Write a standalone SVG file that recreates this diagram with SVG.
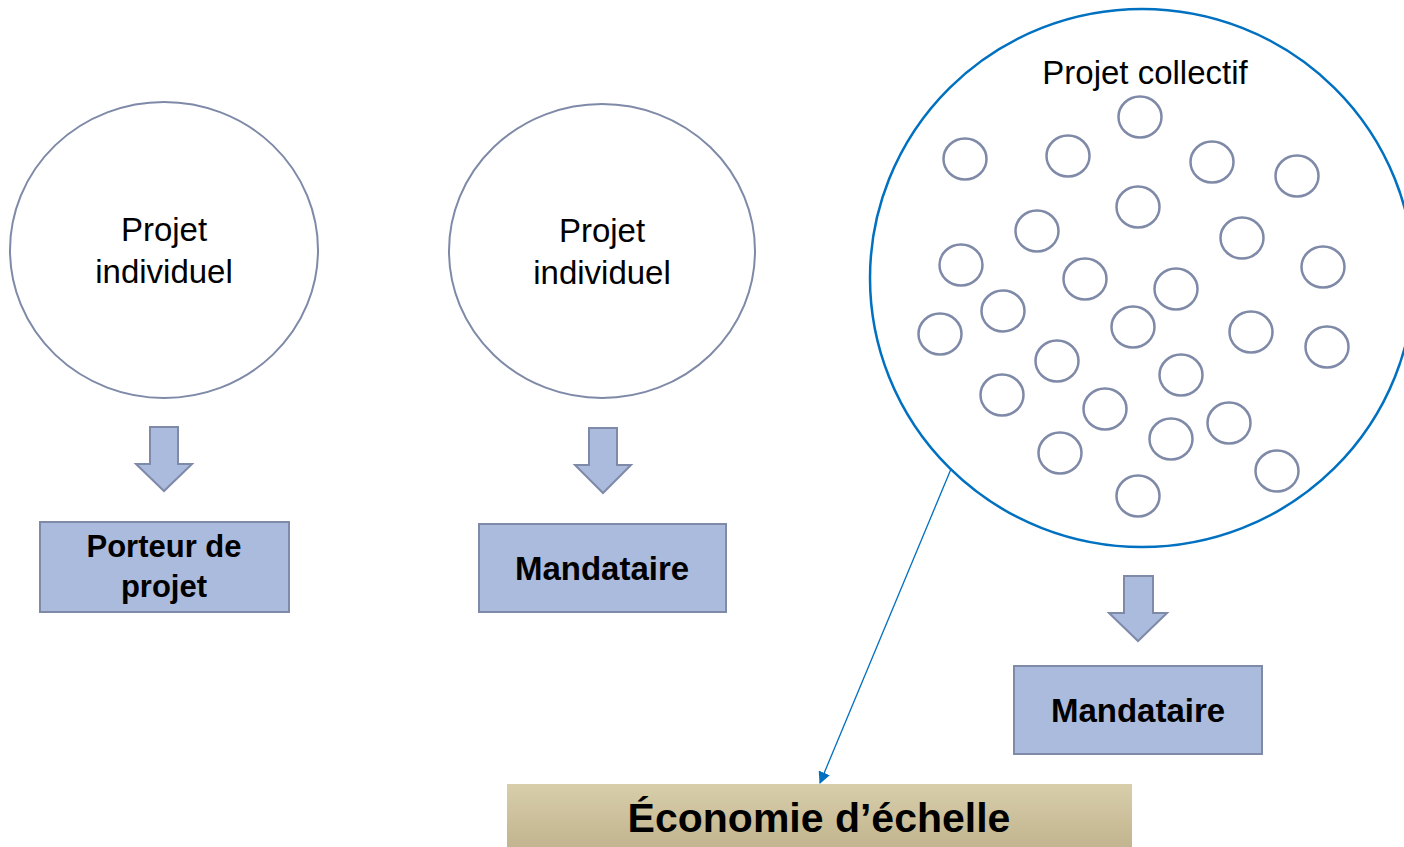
<svg xmlns="http://www.w3.org/2000/svg" width="1404" height="847" viewBox="0 0 1404 847">
<style>
.big{fill:#fff;stroke:#7F8AA8;stroke-width:2}
.sm{fill:#fff;stroke:#7F8AA8;stroke-width:2.5}
.arr{fill:#ABBBDD;stroke:#7F8AA8;stroke-width:2}
.box{fill:#ABBBDD;stroke:#7F8AA8;stroke-width:2}
.t{font-family:"Liberation Sans",Arial,sans-serif;font-size:33px;fill:#000;text-anchor:middle}
.b{font-family:"Liberation Sans",Arial,sans-serif;font-size:31px;font-weight:bold;fill:#000;text-anchor:middle}
.conn{stroke:#0070C0;stroke-width:1.3;fill:none}
</style>
<defs>
<linearGradient id="tan" x1="0" y1="0" x2="0" y2="1">
<stop offset="0" stop-color="#D8CEAA"/>
<stop offset="1" stop-color="#BFB28C"/>
</linearGradient>
<marker id="ah" markerWidth="12" markerHeight="12" refX="11" refY="6" orient="auto" markerUnits="userSpaceOnUse">
<path d="M0,0 L12,6 L0,12 Z" fill="#0070C0"/>
</marker>
</defs>

<g id="projet-individuel-1">
<ellipse class="big" cx="164" cy="250" rx="154" ry="148"/>
<text class="t" x="164" y="241">Projet</text>
<text class="t" x="164" y="283">individuel</text>
</g>
<g id="arrow-1"><path class="arr" d="M150,427 H178 V464 H192 L164,491 L136,464 H150 Z"/></g>
<g id="porteur">
<rect class="box" x="40" y="522" width="249" height="90"/>
<text class="b" x="164" y="557">Porteur de</text>
<text class="b" x="164" y="597">projet</text>
</g>

<g id="projet-individuel-2">
<ellipse class="big" cx="602" cy="251" rx="153" ry="147"/>
<text class="t" x="602" y="242">Projet</text>
<text class="t" x="602" y="284">individuel</text>
</g>
<g id="arrow-2"><path class="arr" d="M589,428 H617 V465 H631 L603,493 L575,465 H589 Z"/></g>
<g id="mandataire-1">
<rect class="box" x="479" y="524" width="247" height="88"/>
<text class="b" x="602" y="580" style="font-size:33px">Mandataire</text>
</g>

<g id="projet-collectif">
<ellipse cx="1142" cy="278" rx="272" ry="269" fill="#fff" stroke="#0070C0" stroke-width="2.5"/>
<text class="t" x="1145" y="84">Projet collectif</text>
<g>
<ellipse class="sm" cx="1140" cy="117" rx="21.5" ry="20.5"/>
<ellipse class="sm" cx="965" cy="159" rx="21.5" ry="20.5"/>
<ellipse class="sm" cx="1068" cy="156" rx="21.5" ry="20.5"/>
<ellipse class="sm" cx="1212" cy="162" rx="21.5" ry="20.5"/>
<ellipse class="sm" cx="1297" cy="176" rx="21.5" ry="20.5"/>
<ellipse class="sm" cx="1138" cy="207" rx="21.5" ry="20.5"/>
<ellipse class="sm" cx="1037" cy="231" rx="21.5" ry="20.5"/>
<ellipse class="sm" cx="1242" cy="238" rx="21.5" ry="20.5"/>
<ellipse class="sm" cx="961" cy="265" rx="21.5" ry="20.5"/>
<ellipse class="sm" cx="1323" cy="267" rx="21.5" ry="20.5"/>
<ellipse class="sm" cx="1085" cy="279" rx="21.5" ry="20.5"/>
<ellipse class="sm" cx="1176" cy="289" rx="21.5" ry="20.5"/>
<ellipse class="sm" cx="1003" cy="311" rx="21.5" ry="20.5"/>
<ellipse class="sm" cx="940" cy="334" rx="21.5" ry="20.5"/>
<ellipse class="sm" cx="1133" cy="327" rx="21.5" ry="20.5"/>
<ellipse class="sm" cx="1251" cy="332" rx="21.5" ry="20.5"/>
<ellipse class="sm" cx="1327" cy="347" rx="21.5" ry="20.5"/>
<ellipse class="sm" cx="1057" cy="361" rx="21.5" ry="20.5"/>
<ellipse class="sm" cx="1181" cy="375" rx="21.5" ry="20.5"/>
<ellipse class="sm" cx="1002" cy="395" rx="21.5" ry="20.5"/>
<ellipse class="sm" cx="1105" cy="409" rx="21.5" ry="20.5"/>
<ellipse class="sm" cx="1229" cy="423" rx="21.5" ry="20.5"/>
<ellipse class="sm" cx="1171" cy="439" rx="21.5" ry="20.5"/>
<ellipse class="sm" cx="1060" cy="453" rx="21.5" ry="20.5"/>
<ellipse class="sm" cx="1277" cy="471" rx="21.5" ry="20.5"/>
<ellipse class="sm" cx="1138" cy="496" rx="21.5" ry="20.5"/>
</g>
</g>
<g id="arrow-3"><path class="arr" d="M1124,576 H1153 V613 H1167 L1138,641 L1109,613 H1124 Z"/></g>
<g id="mandataire-2">
<rect class="box" x="1014" y="666" width="248" height="88"/>
<text class="b" x="1138" y="722" style="font-size:33px">Mandataire</text>
</g>

<g id="economie">
<rect x="507" y="784" width="625" height="70" fill="url(#tan)"/>
<text class="b" x="819" y="832" style="font-size:41px">Économie d’échelle</text>
</g>

<g id="connectors">
<line class="conn" x1="951" y1="469" x2="820" y2="783" marker-end="url(#ah)"/>
</g>
</svg>
